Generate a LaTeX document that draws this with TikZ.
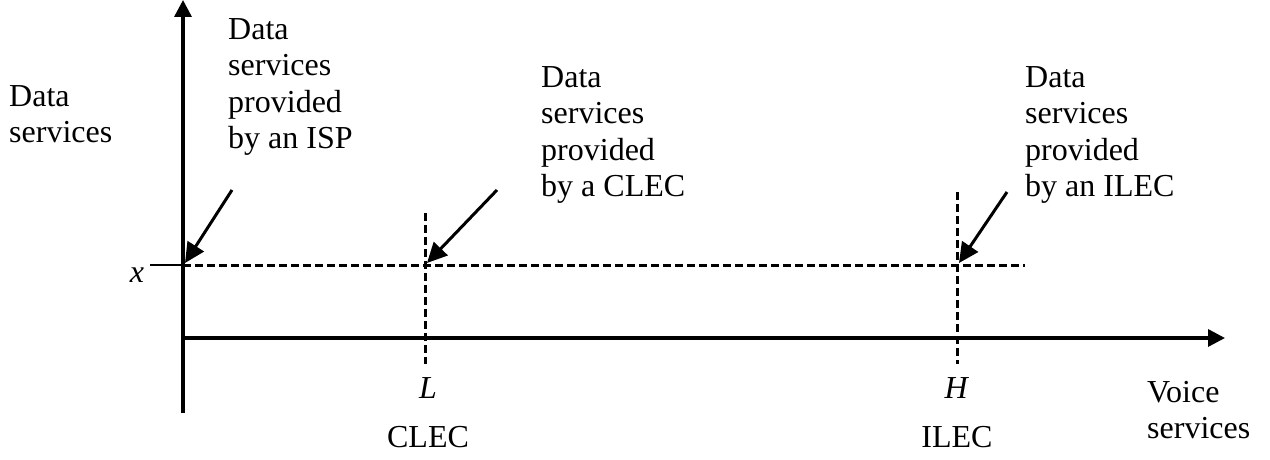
\documentclass[tikz,border=0pt]{standalone}
\usepackage{fontspec}
\setmainfont{Liberation Serif}
\usetikzlibrary{arrows.meta, positioning}

\tikzset{
    lbl/.style={inner sep=0pt, align=left, font=\fontsize{32}{36.6}\selectfont},
    axis/.style={line width=3.4pt, -{Triangle[length=17pt, width=17pt]}},
    guide/.style={line width=3pt, dash pattern=on 7.5pt off 4.5pt},
    pointer/.style={line width=3pt, -{Triangle[length=20pt, width=19pt]}}
}

\begin{document}
\begin{tikzpicture}[x=1pt, y=1pt]
    \useasboundingbox (0,0) rectangle (1270,459);
    % axes
    \coordinate (origin) at (183,121);
    \coordinate (ytop) at (183,459);
    \coordinate (ybot) at (183,46);
    \coordinate (xend) at (1225,121);
    \draw[axis] (ybot) -- (ytop);
    \draw[axis] (origin) -- (xend);
    % level x and the two firms
    \coordinate (xlev) at (183,194);
    \coordinate (xlevend) at (1025,194);
    \coordinate (xtick) at (150,194);
    \coordinate (ltop) at (425,246);
    \coordinate (lbot) at (425,95);
    \coordinate (htop) at (957,267);
    \coordinate (hbot) at (957,95);
    \coordinate (lpt) at (425,194);
    \coordinate (hpt) at (957,194);
    \draw[line width=1.4pt] (xtick) -- (xlev);
    \draw[guide] (xlev) -- (xlevend);
    \draw[guide] (ltop) -- (lbot);
    \draw[guide] (htop) -- (hbot);
    % labels
    \node[lbl, anchor=north west] (yname) at (9,374) {Data\\services};
    \node[lbl, anchor=north west] (isp) at (228,441) {Data\\services\\provided\\by an ISP};
    \node[lbl, anchor=north west] (clec) at (541,393) {Data\\services\\provided\\by a CLEC};
    \node[lbl, anchor=north west] (ilec) at (1025,393) {Data\\services\\provided\\by an ILEC};
    \node[lbl] (xlab) at (137,184) {\textit{x}};
    \node[lbl] (llab) at (428,71) {\textit{L}};
    \node[lbl] (clecname) at (428,22) {CLEC};
    \node[lbl] (hlab) at (957,71) {\textit{H}};
    \node[lbl] (ilecname) at (957,22) {ILEC};
    \node[lbl, anchor=west] (xname) at (1147,49) {Voice\\services};
    % pointers
    \coordinate (ispfrom) at (232,269);
    \coordinate (clecfrom) at (497,269);
    \coordinate (ilecfrom) at (1007,267);
    \draw[pointer] (ispfrom) -- ([xshift=2pt,yshift=2pt]xlev);
    \draw[pointer] (clecfrom) -- ([xshift=2pt,yshift=2pt]lpt);
    \draw[pointer] (ilecfrom) -- ([xshift=2pt,yshift=2pt]hpt);
\end{tikzpicture}
\end{document}
